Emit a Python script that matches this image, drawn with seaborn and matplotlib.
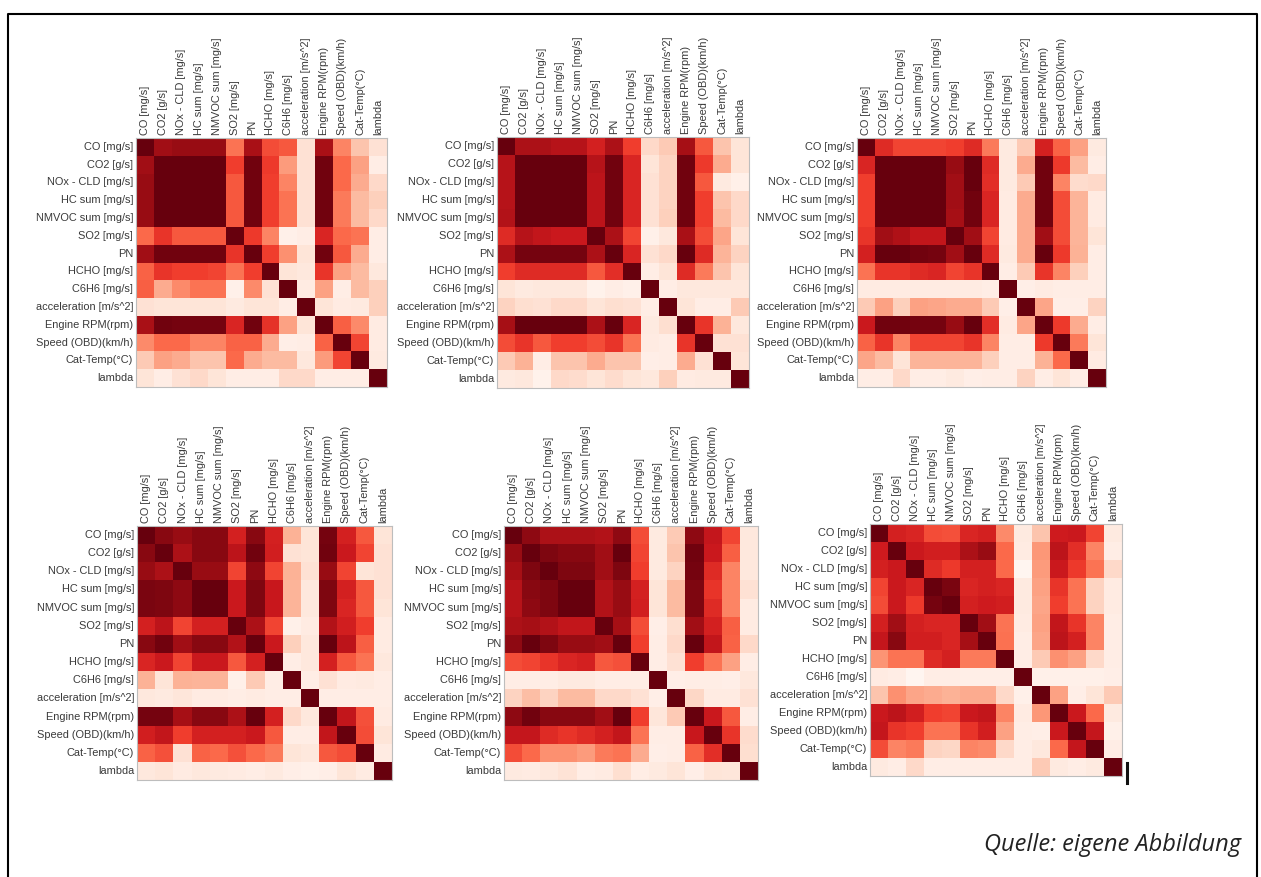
"""
Sechs Korrelationsmatrizen als Heatmaps (Reds)
"""

import matplotlib.pyplot as plt
import seaborn as sns
import numpy as np
import pandas as pd
from matplotlib.lines import Line2D

labels = ['CO [mg/s]', 'CO2 [g/s]', 'NOx - CLD [mg/s]', 'HC sum [mg/s]',
          'NMVOC sum [mg/s]', 'SO2 [mg/s]', 'PN', 'HCHO [mg/s]', 'C6H6 [mg/s]',
          'acceleration [m/s^2]', 'Engine RPM(rpm)', 'Speed (OBD)(km/h)',
          'Cat-Temp(°C)', 'lambda']

corr_1 = [
    [1.00, .88, .90, .90, .90, .47, .86, .58, .55, .12, .86, .42, .22, .12],
    [.88, 1.00, 1.00, 1.00, 1.00, .62, .98, .63, .35, .12, .98, .50, .33, .05],
    [.90, 1.00, 1.00, 1.00, 1.00, .55, .98, .62, .42, .12, .98, .50, .30, .15],
    [.90, 1.00, 1.00, 1.00, 1.00, .55, .98, .62, .47, .12, .98, .45, .25, .18],
    [.90, 1.00, 1.00, 1.00, 1.00, .55, .98, .62, .47, .12, .98, .45, .25, .15],
    [.50, .65, .55, .55, .55, 1.00, .63, .42, .03, .05, .70, .50, .47, .05],
    [.88, .98, .98, .98, .98, .65, 1.00, .62, .38, .10, .98, .55, .30, .05],
    [.52, .65, .62, .62, .60, .47, .62, 1.00, .10, .08, .65, .33, .25, .08],
    [.53, .30, .40, .47, .47, .03, .40, .12, 1.00, .06, .33, .05, .25, .18],
    [.12, .10, .10, .10, .10, .07, .10, .10, .05, 1.00, .10, .06, .07, .18],
    [.86, .98, .97, .97, .97, .70, .98, .66, .33, .10, 1.00, .53, .40, .06],
    [.40, .50, .50, .42, .42, .52, .52, .30, .04, .05, .52, 1.00, .60, .06],
    [.20, .33, .30, .22, .22, .50, .30, .25, .25, .08, .35, .60, 1.00, .07],
    [.10, .05, .12, .15, .10, .05, .05, .05, .15, .15, .05, .05, .05, 1.00],
]

corr_2 = [
    [1.00, .85, .85, .82, .82, .72, .85, .62, .15, .20, .87, .55, .22, .10],
    [.82, 1.00, 1.00, 1.00, 1.00, .82, .98, .70, .10, .17, .98, .63, .30, .10],
    [.82, 1.00, 1.00, 1.00, 1.00, .80, .98, .70, .12, .17, .98, .55, .07, .03],
    [.82, 1.00, 1.00, 1.00, 1.00, .80, .98, .70, .12, .17, .98, .62, .22, .15],
    [.83, 1.00, 1.00, 1.00, 1.00, .80, .98, .70, .12, .18, .98, .62, .25, .15],
    [.68, .82, .78, .75, .75, 1.00, .85, .60, .03, .08, .86, .58, .32, .10],
    [.85, .97, .97, .97, .97, .85, 1.00, .70, .12, .15, 1.00, .68, .27, .17],
    [.62, .68, .68, .68, .68, .55, .67, 1.00, .05, .10, .68, .45, .22, .10],
    [.10, .07, .08, .08, .08, .02, .05, .03, 1.00, .05, .08, .08, .08, .08],
    [.17, .13, .12, .15, .15, .10, .13, .12, .05, 1.00, .10, .05, .05, .20],
    [.87, 1.00, 1.00, 1.00, 1.00, .85, 1.00, .70, .07, .13, 1.00, .65, .28, .08],
    [.58, .65, .55, .62, .62, .58, .65, .47, .06, .05, .65, 1.00, .12, .12],
    [.20, .28, .05, .22, .22, .30, .22, .22, .04, .05, .30, .12, 1.00, .10],
    [.07, .08, .02, .15, .14, .10, .14, .10, .08, .18, .06, .07, .07, 1.00],
]

corr_3 = [
    [1.00, .68, .60, .60, .60, .62, .68, .45, .07, .20, .72, .52, .33, .07],
    [.70, 1.00, 1.00, 1.00, 1.00, .90, 1.00, .68, .07, .30, .98, .63, .25, .05],
    [.62, 1.00, 1.00, 1.00, 1.00, .88, 1.00, .67, .07, .20, .98, .42, .14, .15],
    [.62, 1.00, 1.00, 1.00, 1.00, .88, .98, .70, .06, .30, .98, .58, .27, .06],
    [.62, 1.00, 1.00, 1.00, 1.00, .87, .98, .70, .06, .30, .98, .58, .27, .06],
    [.65, .88, .84, .78, .78, 1.00, .88, .60, .06, .30, .88, .58, .27, .10],
    [.72, 1.00, 1.00, .98, .97, .88, 1.00, .68, .07, .30, 1.00, .63, .28, .05],
    [.47, .65, .65, .68, .70, .60, .65, 1.00, .05, .20, .65, .42, .18, .05],
    [.06, .06, .06, .06, .06, .06, .06, .05, 1.00, .04, .06, .05, .05, .05],
    [.20, .33, .18, .33, .32, .30, .30, .20, .04, 1.00, .32, .04, .04, .17],
    [.75, .98, .98, .97, .97, .90, 1.00, .67, .06, .32, 1.00, .63, .30, .05],
    [.52, .65, .42, .60, .60, .60, .65, .42, .05, .05, .63, 1.00, .45, .10],
    [.32, .25, .10, .27, .27, .27, .27, .18, .05, .05, .28, .50, 1.00, .06],
    [.05, .05, .15, .05, .05, .07, .04, .05, .05, .17, .05, .10, .05, 1.00],
]

corr_4 = [
    [1.00, .93, .90, .93, .93, .72, .93, .72, .28, .10, .97, .72, .55, .10],
    [.93, 1.00, .85, .93, .93, .80, .98, .73, .12, .10, .98, .75, .60, .12],
    [.90, .85, 1.00, .90, .90, .60, .92, .60, .28, .12, .90, .60, .10, .12],
    [.96, .95, .92, 1.00, 1.00, .75, .95, .76, .27, .08, .95, .72, .55, .12],
    [.96, .95, .92, 1.00, 1.00, .75, .95, .76, .27, .08, .95, .70, .55, .10],
    [.72, .80, .60, .72, .72, 1.00, .85, .60, .03, .06, .83, .73, .62, .06],
    [.93, .98, .88, .93, .93, .83, 1.00, .75, .18, .08, 1.00, .80, .53, .06],
    [.70, .75, .60, .75, .75, .55, .72, 1.00, .05, .08, .72, .55, .47, .08],
    [.28, .10, .28, .27, .27, .03, .20, .05, 1.00, .05, .12, .06, .07, .05],
    [.08, .07, .09, .06, .06, .05, .06, .05, .05, 1.00, .05, .05, .05, .05],
    [.97, .97, .87, .93, .93, .85, 1.00, .72, .15, .08, 1.00, .78, .57, .06],
    [.73, .78, .62, .72, .72, .72, .75, .55, .05, .05, .78, 1.00, .58, .10],
    [.52, .57, .12, .52, .50, .57, .50, .45, .10, .08, .55, .58, 1.00, .06],
    [.08, .10, .06, .08, .07, .06, .05, .07, .04, .03, .04, .10, .06, 1.00],
]

corr_5 = [
    [1.00, .92, .85, .85, .85, .83, .92, .58, .07, .20, .92, .77, .60, .08],
    [.90, 1.00, .95, .93, .93, .88, 1.00, .60, .07, .22, .98, .75, .53, .08],
    [.87, .95, 1.00, .95, .95, .88, .95, .62, .07, .17, .97, .68, .42, .08],
    [.82, .93, .95, 1.00, 1.00, .83, .90, .72, .10, .25, .95, .65, .42, .12],
    [.82, .92, .95, 1.00, 1.00, .83, .90, .73, .10, .25, .95, .68, .42, .06],
    [.85, .87, .83, .78, .78, 1.00, .87, .58, .04, .13, .88, .72, .53, .06],
    [.92, 1.00, .95, .90, .90, .88, 1.00, .62, .05, .15, 1.00, .78, .52, .15],
    [.58, .60, .65, .70, .72, .55, .57, 1.00, .05, .12, .62, .47, .33, .05],
    [.05, .05, .05, .07, .07, .05, .05, .05, 1.00, .04, .05, .05, .04, .08],
    [.17, .24, .17, .25, .25, .15, .15, .12, .04, 1.00, .16, .06, .06, .12],
    [.92, .98, .93, .93, .93, .88, 1.00, .62, .09, .20, 1.00, .75, .55, .05],
    [.77, .77, .68, .65, .68, .72, .78, .47, .05, .05, .76, 1.00, .65, .14],
    [.58, .50, .38, .38, .35, .45, .47, .30, .04, .05, .52, .67, 1.00, .13],
    [.07, .06, .08, .11, .05, .06, .13, .05, .07, .10, .04, .10, .09, 1.00],
]

corr_6 = [
    [1.00, .72, .70, .58, .57, .70, .72, .40, .07, .22, .74, .75, .60, .07],
    [.74, 1.00, .75, .73, .73, .85, .90, .50, .06, .36, .80, .67, .42, .05],
    [.72, .75, 1.00, .68, .63, .72, .72, .50, .00, .35, .75, .63, .47, .15],
    [.60, .75, .70, 1.00, .96, .70, .72, .70, .07, .33, .65, .47, .17, .06],
    [.58, .75, .63, .97, 1.00, .72, .74, .73, .07, .32, .62, .47, .17, .06],
    [.72, .88, .72, .70, .70, 1.00, .88, .47, .06, .33, .78, .65, .42, .05],
    [.77, .93, .73, .73, .70, .87, 1.00, .48, .05, .32, .80, .72, .42, .05],
    [.37, .47, .47, .68, .72, .45, .45, 1.00, .05, .20, .38, .33, .15, .05],
    [.06, .05, .00, .05, .05, .04, .04, .04, 1.00, .03, .03, .03, .03, .04],
    [.22, .38, .32, .30, .28, .30, .30, .15, .03, 1.00, .33, .04, .10, .20],
    [.75, .80, .73, .62, .60, .75, .78, .42, .06, .36, 1.00, .75, .50, .07],
    [.77, .65, .62, .47, .47, .65, .73, .33, .05, .04, .75, 1.00, .77, .03],
    [.58, .42, .45, .17, .16, .42, .40, .15, .05, .08, .50, .77, 1.00, .05],
    [.07, .05, .15, .05, .05, .05, .05, .05, .05, .20, .07, .05, .07, 1.00],
]

W, H = 1261, 877

# Pixelkanten der Panels: links, rechts, oben, unten
panels = [
    (corr_1, 136, 387, 138, 387),
    (corr_2, 497, 749, 137, 388),
    (corr_3, 857, 1106, 138, 387),
    (corr_4, 137, 392, 526, 780),
    (corr_5, 504, 758, 526, 780),
    (corr_6, 870, 1122, 524, 776),
]

plt.rcParams['font.family'] = ['Liberation Sans', 'DejaVu Sans']

fig = plt.figure(figsize=(W / 100, H / 100), dpi=100, facecolor='white')

for corr, x0, x1, y0, y1 in panels:
    ax = fig.add_axes([x0 / W, 1 - y1 / H, (x1 - x0) / W, (y1 - y0) / H])
    df = pd.DataFrame(np.array(corr), index=labels, columns=labels)
    sns.heatmap(df, cmap='Reds', vmin=0, vmax=1, cbar=False, ax=ax,
                xticklabels=True, yticklabels=True)
    ax.xaxis.tick_top()
    ax.tick_params(length=0, pad=2, labelsize=7.9, labelcolor='#3a3a3a')
    ax.set_xticklabels(labels, rotation=90, ha='center', va='bottom')
    ax.set_yticklabels(labels, rotation=0)
    for side in ax.spines.values():
        side.set_visible(True)
        side.set_color('#bdbdbd')
        side.set_linewidth(0.8)

# Rahmen ohne untere Kante, kleine Marke neben dem letzten Panel
fig.add_artist(Line2D([8 / W, 8 / W, 1257 / W, 1257 / W],
                      [0, 1 - 13.5 / H, 1 - 13.5 / H, 0], color='black', lw=1.5))
fig.add_artist(Line2D([1126.5 / W, 1126.5 / W], [1 - 763 / H, 1 - 783 / H], color='#111111', lw=2.2))

fig.text(1241 / W, 1 - 845 / H, 'Quelle: eigene Abbildung', ha='right', va='center',
         fontsize=17, style='italic', color='#222222', family='Open Sans')

fig.savefig('out.png', dpi=100)
